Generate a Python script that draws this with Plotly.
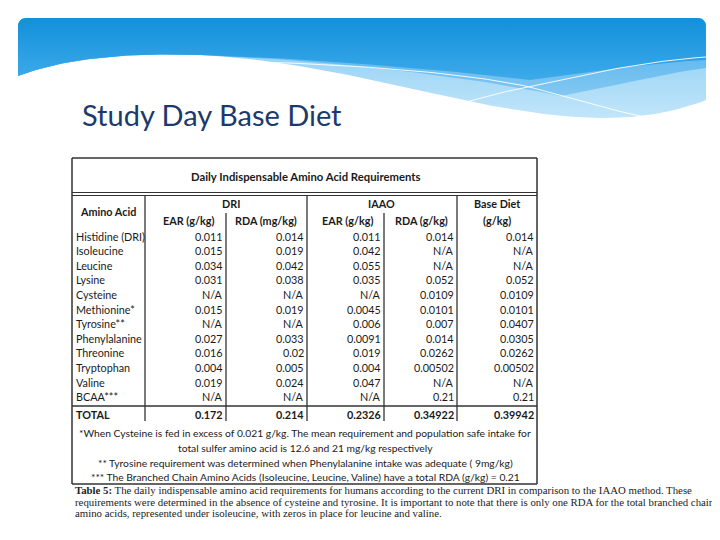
import numpy as np
import plotly.graph_objects as go

# ---------------- data ----------------
slide_title = "Study Day Base Diet"
table_title = "Daily Indispensable Amino Acid Requirements"
amino_acids = ["Histidine (DRI)", "Isoleucine", "Leucine", "Lysine", "Cysteine",
               "Methionine*", "Tyrosine**", "Phenylalanine", "Threonine",
               "Tryptophan", "Valine", "BCAA***"]
dri_ear = ["0.011", "0.015", "0.034", "0.031", "N/A", "0.015", "N/A", "0.027",
           "0.016", "0.004", "0.019", "N/A"]
dri_rda = ["0.014", "0.019", "0.042", "0.038", "N/A", "0.019", "N/A", "0.033",
           "0.02", "0.005", "0.024", "N/A"]
iaao_ear = ["0.011", "0.042", "0.055", "0.035", "N/A", "0.0045", "0.006", "0.0091",
            "0.019", "0.004", "0.047", "N/A"]
iaao_rda = ["0.014", "N/A", "N/A", "0.052", "0.0109", "0.0101", "0.007", "0.014",
            "0.0262", "0.00502", "N/A", "0.21"]
base_diet = ["0.014", "N/A", "N/A", "0.052", "0.0109", "0.0101", "0.0407", "0.0305",
             "0.0262", "0.00502", "N/A", "0.21"]
totals = ["TOTAL", "0.172", "0.214", "0.2326", "0.34922", "0.39942"]
group_headers = ["DRI", "IAAO", "Base Diet"]
sub_headers = ["EAR (g/kg)", "RDA (mg/kg)", "EAR (g/kg)", "RDA (g/kg)", "(g/kg)"]
footnotes = [
    "*When Cysteine is fed in excess of 0.021 g/kg. The mean requirement and population safe intake for",
    "total sulfer amino acid is 12.6 and 21 mg/kg respectively",
    "** Tyrosine requirement was determined when Phenylalanine intake was adequate ( 9mg/kg)",
    "*** The Branched Chain Amino Acids (Isoleucine, Leucine, Valine) have a total RDA (g/kg) = 0.21",
]
caption = [
    "<b>Table 5:</b> The daily indispensable amino acid requirements for humans according to the current DRI in comparison to the IAAO method. These",
    "requirements were determined in the absence of cysteine and tyrosine. It is important to note that there is only one RDA for the total branched chain",
    "amino acids, represented under isoleucine, with zeros in place for leucine and valine.",
]

# ---------------- helpers ----------------
def bez(p0, p1, p2, p3, n=40):
    t = np.linspace(0, 1, n)[:, None]
    p0, p1, p2, p3 = map(np.array, (p0, p1, p2, p3))
    return (1 - t) ** 3 * p0 + 3 * (1 - t) ** 2 * t * p1 + 3 * (1 - t) * t ** 2 * p2 + t ** 3 * p3

def top_part(right_y):
    pts = [(706, right_y), (706, 26)]
    a = np.linspace(0, np.pi / 2, 8)
    pts += [(698 + 8 * np.cos(x), 26 - 8 * np.sin(x)) for x in a]
    a2 = np.linspace(np.pi / 2, np.pi, 8)
    pts += [(26 + 8 * np.cos(x), 26 - 8 * np.sin(x)) for x in a2]
    pts += [(18, 76)]
    return pts

fig = go.Figure()

def add_fill(bottom_segments, gradient, right_y):
    pts = top_part(right_y)
    for seg in bottom_segments:
        pts += [tuple(p) for p in seg]
    xs = [p[0] for p in pts] + [pts[0][0]]
    ys = [p[1] for p in pts] + [pts[0][1]]
    fig.add_trace(go.Scatter(x=xs, y=ys, mode="lines", fill="toself", line=dict(width=0),
                             fillgradient=gradient, hoverinfo="skip", showlegend=False))

LEFT = [bez((18, 76), (60, 60), (120, 52), (200, 55))]
# lightest layer
add_fill(LEFT + [bez((200, 55), (330, 62), (430, 98), (530, 112)),
                 bez((530, 112), (590, 121), (650, 122), (706, 100))],
         dict(type="vertical", colorscale=[[0, "#8FCFF4"], [1, "#C3E6FA"]], start=40, stop=120), 100)
# mid layer
add_fill(LEFT + [bez((200, 55), (330, 60), (480, 78), (560, 96)),
                 bez((560, 96), (620, 85), (670, 72), (706, 68))],
         dict(type="vertical", colorscale=[[0, "#55B4EE"], [1, "#86C9F2"]], start=40, stop=100), 68)
# main dark gradient
add_fill(LEFT + [bez((200, 55), (300, 58), (430, 68), (530, 80)),
                 bez((530, 80), (600, 70), (660, 62), (706, 60))],
         dict(type="vertical", colorscale=[[0, "#1290DA"], [1, "#3DAAEA"]], start=18, stop=80), 60)

# thin white lines
for segs in ([bez((216, 61), (380, 64), (480, 76), (530, 87)), bez((530, 87), (570, 98), (610, 110), (645, 117))],
             [bez((447, 107), (480, 98), (500, 92), (530, 87)), bez((530, 87), (600, 70), (660, 60), (706, 57))]):
    pts = np.vstack(segs)
    fig.add_trace(go.Scatter(x=pts[:, 0], y=pts[:, 1], mode="lines",
                             line=dict(color="rgba(255,255,255,0.9)", width=1),
                             hoverinfo="skip", showlegend=False))

# ---------------- table geometry ----------------
L, R = 72, 537
right_edges = [225, 306, 383, 456, 536]
row_y0, row_dy = 236, 14.6
line_col = "#333333"

shapes = []
def hline(y, x0=L, x1=R, w=1.3):
    shapes.append(dict(type="line", x0=x0, x1=x1, y0=y, y1=y, xref="x", yref="y",
                       line=dict(color=line_col, width=w)))
def vline(x, y0, y1, w=1.3):
    shapes.append(dict(type="line", x0=x, x1=x, y0=y0, y1=y1, xref="x", yref="y",
                       line=dict(color=line_col, width=w)))

hline(158, w=1.5)
hline(192.5, w=1.2)
hline(195.5, w=1.2)
hline(406, w=1.5)
hline(484, w=1.5)
vline(L, 158, 484, w=1.5)
vline(R, 158, 484, w=1.5)
for x in (145, 307, 457):
    vline(x, 195.5, 421)
for x in (226, 384):
    vline(x, 213, 421)

ann = []
FONT = "Lato"
def txt(x, y, s, size=10.8, anchor="left", color="#1a1a1a", bold=False, family=FONT):
    ann.append(dict(x=x, y=y, xref="x", yref="y", text=f"<b>{s}</b>" if bold else s,
                    showarrow=False, xanchor=anchor, yanchor="middle",
                    font=dict(family=family, size=size, color=color)))

txt(305, 176, table_title, size=11.3, anchor="center", bold=True)
txt(108, 211, "Amino Acid", anchor="center", bold=True)
for x, s in zip([231, 381, 497], group_headers):
    txt(x, 203, s, anchor="center", bold=True)
for x, s in zip([188, 266, 347, 421, 497], sub_headers):
    txt(x, 220, s, anchor="center", bold=True)

cols = [dri_ear, dri_rda, iaao_ear, iaao_rda, base_diet]
for i, name in enumerate(amino_acids):
    y = row_y0 + row_dy * i
    txt(74, y, name)
    for xe, col in zip(right_edges, cols):
        txt(xe, y, col[i], anchor="right")

txt(74, 414, totals[0], bold=True)
for xe, s in zip(right_edges, totals[1:]):
    txt(xe, 414, s, anchor="right", bold=True)

for y, s in zip([433, 448, 463, 477], footnotes):
    txt(305, y, s, size=10.3, anchor="center")

for y, s in zip([490, 501.5, 513], caption):
    txt(73, y, s, size=10.8, family="Liberation Serif", color="#222222")

# slide title
txt(80, 114, slide_title, size=29, color="#1B3A6B", family="Lato")

# page body has an 8px margin: shift ranges so data units equal screen pixels
OFF = 8
fig.update_layout(
    width=720, height=540, margin=dict(l=0, r=0, t=0, b=0),
    paper_bgcolor="white", plot_bgcolor="white",
    xaxis=dict(range=[OFF, 720 + OFF], visible=False, fixedrange=True),
    yaxis=dict(range=[540 + OFF, OFF], visible=False, fixedrange=True),
    shapes=shapes, annotations=ann, showlegend=False,
)
fig.write_html("out.html")
